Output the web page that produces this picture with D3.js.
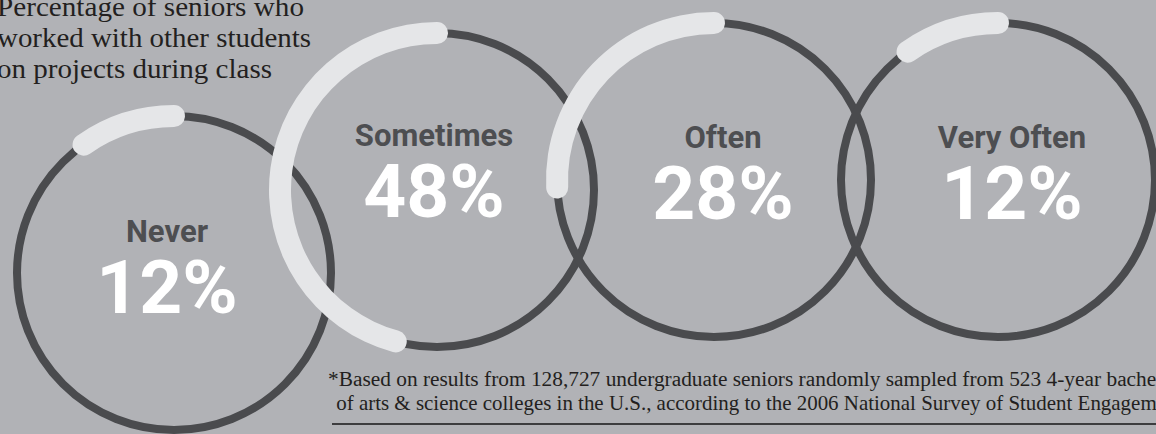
<!DOCTYPE html>
<html>
<head>
<meta charset="utf-8">
<script src="https://cdn.jsdelivr.net/npm/d3@7"></script>
<style>
  html, body { margin: 0; padding: 0; background: #b1b2b6; overflow: hidden; }
  svg { display: block; }
</style>
</head>
<body>
<script>
// survey answers and their shares
const categories = ["Never", "Sometimes", "Often", "Very Often"];
const percents = [12, 48, 28, 12];

const titleLines = [
    "Percentage of seniors who",
    "worked with other students",
    "on projects during class"
];

const noteLines = [
    "*Based on results from 128,727 undergraduate seniors randomly sampled from 523 4-year bachelor\u2019s",
    " of arts & science colleges in the U.S., according to the 2006 National Survey of Student Engagement."
];

var width = 1156,
    height = 434;

// where each ring sits (layout only)
var rings = [
    {cx: 174, cy: 273, tx: 167, ty: 242},
    {cx: 437, cy: 190, tx: 434, ty: 146},
    {cx: 714, cy: 180, tx: 723, ty: 148},
    {cx: 998, cy: 180, tx: 1012, ty: 148}
];
var r = 157;
var thick = 22;

var svg = d3.select("body")
    .append("svg")
    .attr("width", width)
    .attr("height", height);

var data = categories.map(function(c, i) {
    return {name: c, value: percents[i], pos: rings[i]};
});

var angle = d3.scaleLinear().domain([0, 100]).range([0, 2 * Math.PI]);
var capShift = (thick / 2) / r;

var arc = d3.arc()
    .innerRadius(r - thick / 2)
    .outerRadius(r + thick / 2)
    .cornerRadius(thick / 2)
    .startAngle(function(d) { return capShift - angle(d.value); })
    .endAngle(capShift);

// dark rings first
svg.append("g")
    .selectAll("circle")
    .data(data)
    .enter().append("circle")
    .attr("cx", function(d) { return d.pos.cx; })
    .attr("cy", function(d) { return d.pos.cy; })
    .attr("r", r)
    .style("fill", "none")
    .style("stroke", "#4a4b4e")
    .style("stroke-width", 8);

// light share arcs on top
svg.append("g")
    .selectAll("path")
    .data(data)
    .enter().append("path")
    .attr("transform", function(d) { return "translate(" + d.pos.cx + "," + d.pos.cy + ")"; })
    .attr("d", arc)
    .style("fill", "#e5e6e8");

var labels = svg.append("g")
    .selectAll("g")
    .data(data)
    .enter().append("g")
    .attr("transform", function(d) { return "translate(" + d.pos.tx + "," + d.pos.ty + ")"; });

labels.append("text")
    .attr("text-anchor", "middle")
    .style("font-family", "Roboto, 'Open Sans', sans-serif")
    .style("font-weight", 700)
    .style("font-size", "31px")
    .style("fill", "#4d4e51")
    .text(function(d) { return d.name; });

labels.append("text")
    .attr("y", 71)
    .attr("text-anchor", "middle")
    .style("font-family", "Roboto, 'Open Sans', sans-serif")
    .style("font-weight", 700)
    .style("font-size", "75px")
    .style("fill", "#ffffff")
    .text(function(d) { return d.value + "%"; });

// title, top left
var titleWidths = [307, 314, 275];
svg.append("g")
    .selectAll("text")
    .data(titleLines)
    .enter().append("text")
    .attr("x", -3)
    .attr("y", function(d, i) { return 16 + i * 31; })
    .attr("textLength", function(d, i) { return titleWidths[i]; })
    .attr("lengthAdjust", "spacingAndGlyphs")
    .style("font-family", "'Liberation Serif', 'DejaVu Serif', serif")
    .style("font-size", "27px")
    .style("fill", "#231f20")
    .text(function(d) { return d; });

// footnote, scaled so the visible part ends at the right edge
var noteCut = ["bache", "Engagem"];
var noteX = [328, 331];
var notes = svg.append("g")
    .selectAll("text")
    .data(noteLines)
    .enter().append("text")
    .attr("x", function(d, i) { return noteX[i]; })
    .attr("y", function(d, i) { return 386 + i * 24; })
    .attr("xml:space", "preserve")
    .style("font-family", "'Liberation Serif', 'DejaVu Serif', serif")
    .style("font-size", "19px")
    .style("fill", "#231f20")
    .text(function(d) { return d; });

notes.each(function(d, i) {
    var n = d.indexOf(noteCut[i]) + noteCut[i].length;
    var w = this.getSubStringLength(0, n);
    var target = 1157 - noteX[i];
    d3.select(this).style("font-size", (19 * target / w) + "px");
});

svg.append("line")
    .attr("x1", 332)
    .attr("x2", width)
    .attr("y1", 424)
    .attr("y2", 424)
    .style("stroke", "#3d3d3f")
    .style("stroke-width", 2);
</script>
</body>
</html>
